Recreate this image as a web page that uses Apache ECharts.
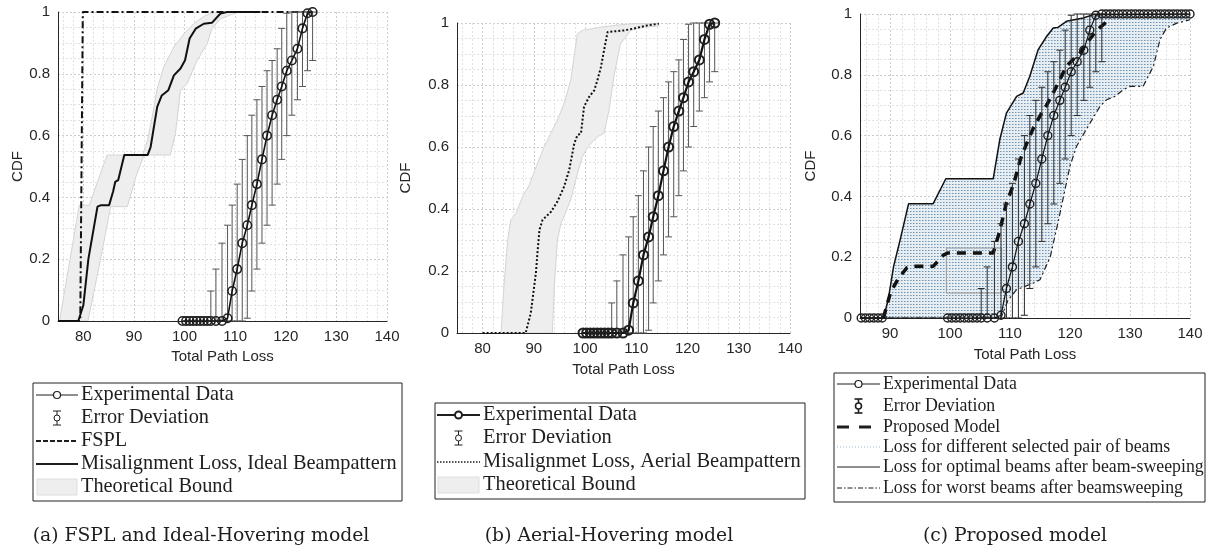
<!DOCTYPE html>
<html>
<head>
<meta charset="utf-8">
<title>CDF of total path loss</title>
<script src="https://cdn.jsdelivr.net/npm/echarts@6/dist/echarts.min.js"></script>
<style>
  html, body { margin: 0; padding: 0; background: #fff; }
  #chart { width: 1223px; height: 551px; }
</style>
</head>
<body>
<div id="chart"></div>
<script>
// ---- data ----
// experimental CDF (same measurement in all three panels)
const expX = [99.6,100.3,101.0,101.7,102.4,103.1,103.8,104.5,105.2,106.2,107.4,108.5,109.4,110.4,111.4,112.4,113.3,114.3,115.3,116.3,117.3,118.3,119.2,120.2,121.2,122.3,123.3,124.3,125.3];
const expY = [0,0,0,0,0,0,0,0,0,0,0,0.009,0.097,0.168,0.252,0.31,0.375,0.443,0.523,0.6,0.666,0.716,0.759,0.81,0.843,0.881,0.947,0.996,1];
// error deviation bars
const errX    = [105.2,106.2,107.4,108.5,109.4,110.4,111.4,112.4,113.3,114.3,115.3,116.3,117.3,118.3,119.2,120.2,121.2,122.3,123.3,124.3,125.3];
const errLow  = [0,0,0,0,0,0,0,0.009,0.097,0.168,0.252,0.31,0.375,0.443,0.523,0.6,0.666,0.716,0.759,0.81,0.843];
const errHigh = [0.097,0.168,0.252,0.31,0.375,0.443,0.523,0.6,0.666,0.716,0.759,0.81,0.843,0.881,0.947,0.996,1,1,1,1,1];
// extra circles drawn in panel (c)
const expCLowX  = [85.2,85.9,86.6,87.3,88.0,88.7];
const expCLowY  = [0,0,0,0,0,0];
const expCHighX = [126.0,126.7,127.4,128.1,128.8,129.5,130.2,130.9,131.6,132.3,133.0,133.7,134.4,135.1,135.8,136.5,137.2,137.9,138.6,139.3,140.0];
const expCHighY = [1,1,1,1,1,1,1,1,1,1,1,1,1,1,1,1,1,1,1,1,1];

// (a) FSPL and ideal beampattern
const fsplX = [75,79.4,79.9,125.3];
const fsplY = [0,0,1,1];
const idealX = [75.3,79,80,81,82.8,83.5,85.1,85.9,86.3,86.9,88.1,92.7,93.3,94.6,95.5,96.8,97.9,99.2,100.1,101,102.2,103.8,105.4,107.1,108.4,115];
const idealY = [0,0,0.05,0.2,0.37,0.375,0.375,0.42,0.45,0.456,0.537,0.537,0.563,0.693,0.73,0.747,0.795,0.817,0.844,0.914,0.946,0.962,0.965,0.995,1,1];
// theoretical bound outline (left edge upward, then right edge downward)
const boundAX = [75.3,79.2,81.2,82.8,84.7,91.7,92.7,93.6,94.6,95.9,97.9,99.9,101.8,103.8,105.8,110.7,109,107.1,105.4,104.5,102.5,100.5,99.2,98.2,97.2,92,90.4,88.7,85.4,83.5,81.5,80.9];
const boundAY = [0,0.375,0.375,0.45,0.537,0.537,0.585,0.66,0.752,0.822,0.887,0.93,0.962,0.986,1,1,0.99,0.978,0.946,0.898,0.844,0.768,0.747,0.607,0.537,0.537,0.467,0.37,0.37,0.208,0.046,0];

// (b) aerial beampattern
const aerialX = [80,88.4,89.4,90.4,90.7,91.1,91.7,93.3,94.6,95.9,96.9,97.9,98.5,99.2,99.8,100.8,101.8,102.4,103.1,103.7,104.4,107.6,109.5,112.1,114.4];
const aerialY = [0,0,0.064,0.193,0.258,0.333,0.365,0.39,0.424,0.472,0.526,0.612,0.638,0.644,0.73,0.762,0.783,0.815,0.858,0.912,0.971,0.976,0.982,0.992,0.998];
const boundBX = [83.6,84.2,84.9,85.5,86.5,87.8,89.1,90.7,92,93.3,94.6,95.9,97.2,98.5,99.5,102.4,105.6,109.5,114.4,114.4,111.5,108.9,106.9,105.6,104.7,103.7,102.4,100.5,99.5,98.5,97.2,95.9,95.3,94.6,94,93.6];
const boundBY = [0,0.16,0.3,0.365,0.386,0.44,0.477,0.547,0.6,0.644,0.687,0.74,0.815,0.966,0.976,0.985,0.992,0.998,0.998,0.99,0.987,0.976,0.933,0.826,0.72,0.644,0.633,0.6,0.569,0.515,0.43,0.376,0.354,0.3,0.15,0];

// (c) proposed model
const optX = [85,88.9,89.7,90.6,91.7,93.1,97.2,99.3,107.2,108.3,109.4,111.1,112.2,113.3,114.7,116.1,117.2,118,119.4,122.2,123.9,124.2,140];
const optY = [0,0,0.06,0.17,0.258,0.376,0.376,0.458,0.458,0.587,0.674,0.729,0.74,0.795,0.883,0.926,0.954,0.956,0.976,0.987,0.998,1,1];
const worstX = [85,108.5,109.7,111.1,113.9,115,116.7,118.1,120,121.1,123.3,125,126.1,127.5,128.9,130,132.2,133.9,135,136.1,137.8,140];
const worstY = [0,0,0.06,0.093,0.115,0.126,0.2,0.323,0.5,0.565,0.64,0.696,0.718,0.729,0.751,0.762,0.762,0.828,0.916,0.954,0.97,0.981];
const propX = [88.9,90.1,91.4,92.8,93.5,97.2,98.9,99.6,107.2,108.2,109.4,110.6,111.7,112.8,113.9,115,116.1,117.2,118.3,119.4,120.5,121.6,122.8,124.4,126.4];
const propY = [0,0.085,0.13,0.165,0.17,0.17,0.207,0.214,0.214,0.28,0.378,0.44,0.52,0.575,0.625,0.665,0.7,0.74,0.784,0.828,0.85,0.87,0.905,0.945,0.98];
const boxX = [99.4,108.6,108.6,99.4,99.4];
const boxY = [0.23,0.23,0.082,0.082,0.23];

// ---- styling ----
const sans = '"Liberation Sans", Arial, Helvetica, sans-serif';
const serif = '"Liberation Serif", "Times New Roman", serif';
const capSerif = '"DejaVu Serif", serif';
const textC = '#262626';
const majorC = '#cdcdcd', minorC = '#e2e2e2', none = 'rgba(0,0,0,0)';

const grids = [
  { left: 58,  top: 12, width: 329, height: 309 },
  { left: 457, top: 23, width: 333, height: 310 },
  { left: 860, top: 14, width: 330, height: 304 }
];
const xMin = [75, 75, 85];
const nameGapX = [26, 29, 29];
const nameGapY = [33, 44, 42];

function xAxisFor(i) {
  return {
    type: 'value', gridIndex: i, min: xMin[i], max: 140, interval: 1,
    name: 'Total Path Loss', nameLocation: 'middle', nameGap: nameGapX[i],
    nameTextStyle: { fontFamily: sans, fontSize: 15, color: textC },
    axisLine: { onZero: false, lineStyle: { color: textC, width: 1 } },
    axisTick: { show: false },
    axisLabel: {
      formatter: v => (v % 10 === 0 ? String(v) : ''),
      fontFamily: sans, fontSize: 15, color: textC, margin: 8
    },
    splitLine: {
      show: true,
      lineStyle: { type: [2, 2], width: 1,
        color: [none, minorC, none, minorC, none, majorC, none, minorC, none, minorC] }
    }
  };
}

function yAxisFor(i) {
  return {
    type: 'value', gridIndex: i, min: 0, max: 1, interval: 0.05,
    name: 'CDF', nameLocation: 'middle', nameGap: nameGapY[i], nameRotate: 90,
    nameTextStyle: { fontFamily: sans, fontSize: 15, color: textC },
    axisLine: { show: true, lineStyle: { color: textC, width: 1 } },
    axisTick: { show: false },
    axisLabel: {
      formatter: v => { const k = Math.round(v * 20); return k % 4 === 0 ? String(k / 20) : ''; },
      fontFamily: sans, fontSize: 15, color: textC, margin: 8
    },
    splitLine: { show: true, lineStyle: { type: [2, 2], width: 1, color: [majorC, minorC, minorC, minorC] } }
  };
}

const pairs = (xs, ys) => xs.map((x, k) => [x, ys[k]]);

function lineSeries(i, xs, ys, lineStyle, z) {
  return {
    type: 'line', xAxisIndex: i, yAxisIndex: i, data: pairs(xs, ys),
    symbol: 'none', silent: true, z: z || 3, lineStyle: lineStyle
  };
}

function polySeries(i, xs, ys, style) {
  return {
    type: 'custom', xAxisIndex: i, yAxisIndex: i, silent: true, clip: true, z: 1,
    data: pairs(xs, ys),
    renderItem: (params, api) => {
      if (params.dataIndex !== 0) return null;
      return { type: 'polygon', shape: { points: xs.map((x, k) => api.coord([x, ys[k]])) }, style: style };
    }
  };
}

function errSeries(i, color, width) {
  return {
    type: 'custom', xAxisIndex: i, yAxisIndex: i, silent: true, z: 4,
    data: errX.map((x, k) => [x, errLow[k], errHigh[k]]),
    encode: { x: 0, y: [1, 2] },
    renderItem: (params, api) => {
      const lo = api.coord([api.value(0), api.value(1)]);
      const hi = api.coord([api.value(0), api.value(2)]);
      const st = { stroke: color, lineWidth: width };
      return { type: 'group', children: [
        { type: 'line', shape: { x1: lo[0], y1: lo[1], x2: hi[0], y2: hi[1] }, style: st },
        { type: 'line', shape: { x1: lo[0] - 3.5, y1: lo[1], x2: lo[0] + 3.5, y2: lo[1] }, style: st },
        { type: 'line', shape: { x1: hi[0] - 3.5, y1: hi[1], x2: hi[0] + 3.5, y2: hi[1] }, style: st }
      ] };
    }
  };
}

function expSeries(i, xs, ys, lineW, ringW, size) {
  return {
    type: 'line', xAxisIndex: i, yAxisIndex: i, data: pairs(xs, ys), silent: true, z: 5,
    symbol: 'circle', symbolSize: size,
    itemStyle: { color: 'rgba(0,0,0,0)', borderColor: '#1f1f1f', borderWidth: ringW },
    lineStyle: { color: '#111', width: lineW }
  };
}

// texture for the "different beam pairs" region of panel (c)
function dotPattern() {
  const c = document.createElement('canvas');
  c.width = 3; c.height = 3;
  const g = c.getContext('2d');
  g.fillStyle = '#e6eef4'; g.fillRect(0, 0, 3, 3);
  g.fillStyle = '#6f93b0'; g.fillRect(1, 1, 1, 1);
  g.fillStyle = '#a9c0d2'; g.fillRect(2, 1, 1, 1);
  return c;
}

// fit font size to a measured width in the reference
const mctx = document.createElement('canvas').getContext('2d');
function fit(text, family, target) {
  mctx.font = '100px ' + family;
  return 100 * target / mctx.measureText(text).width;
}

// ---- legends (MATLAB-style boxes) ----
function icon(kind, x0, x1, y) {
  const cx = (x0 + x1) / 2, k = '#1e1e1e';
  const ln = (w, dash, c) => ({ type: 'line', shape: { x1: x0, y1: y, x2: x1, y2: y },
    style: { stroke: c || k, lineWidth: w, lineDash: dash || null } });
  const seg = (ax, ay, bx, by, w) => ({ type: 'line', shape: { x1: ax, y1: ay, x2: bx, y2: by }, style: { stroke: k, lineWidth: w } });
  switch (kind) {
    case 'exp': return [ln(1), { type: 'circle', shape: { cx: cx, cy: y, r: 3.5 }, style: { fill: '#fff', stroke: k, lineWidth: 1.2 } }];
    case 'expBold': return [ln(2.2), { type: 'circle', shape: { cx: cx, cy: y, r: 3.5 }, style: { fill: '#fff', stroke: k, lineWidth: 2 } }];
    case 'err':
    case 'errBold': {
      const w = kind === 'errBold' ? 1.6 : 1;
      return [seg(cx, y - 7, cx, y + 7, w), seg(cx - 4, y - 7, cx + 4, y - 7, w), seg(cx - 4, y + 7, cx + 4, y + 7, w),
        { type: 'circle', shape: { cx: cx, cy: y, r: 3 }, style: { fill: '#fff', stroke: k, lineWidth: w } }];
    }
    case 'dash': return [ln(2, [5, 2])];
    case 'solid': return [ln(2)];
    case 'thin': return [ln(1)];
    case 'dotted': return [ln(1.5, [1.5, 1.5])];
    case 'lightdot': return [ln(1, [1, 2], '#9db5c8')];
    case 'bigdash': return [ln(3.2, [12, 10])];
    case 'dashdot': return [ln(1, [5, 2, 1.5, 2])];
    case 'band': return [{ type: 'rect', shape: { x: x0 + 1, y: y - 8, width: x1 - x0 - 2, height: 16 }, style: { fill: '#eeeeee', stroke: '#dedede', lineWidth: 1 } }];
  }
  return [];
}

function legendBox(box, ix0, ix1, rows, longest, target) {
  const fs = fit(longest, serif, target);
  const els = [{ type: 'rect', shape: { x: box.x, y: box.y, width: box.w, height: box.h },
    style: { fill: '#fff', stroke: '#222', lineWidth: 1 } }];
  rows.forEach(r => {
    icon(r.icon, ix0, ix1, r.y).forEach(e => els.push(e));
    els.push({ type: 'text', x: ix1 + 3, y: r.y,
      style: { text: r.text, fontFamily: serif, fontSize: fs, fill: '#1e1e1e', align: 'left', verticalAlign: 'middle' } });
  });
  return els;
}

const legendA = legendBox({ x: 33, y: 383, w: 369, h: 118 }, 36, 78, [
  { y: 395, icon: 'exp', text: 'Experimental Data' },
  { y: 418, icon: 'err', text: 'Error Deviation' },
  { y: 441, icon: 'dash', text: 'FSPL' },
  { y: 464, icon: 'solid', text: 'Misalignment Loss, Ideal Beampattern' },
  { y: 487, icon: 'band', text: 'Theoretical Bound' }
], 'Misalignment Loss, Ideal Beampattern', 316);

const legendB = legendBox({ x: 435, y: 403, w: 370, h: 96 }, 437, 480, [
  { y: 415, icon: 'expBold', text: 'Experimental Data' },
  { y: 438, icon: 'err', text: 'Error Deviation' },
  { y: 462, icon: 'dotted', text: 'Misalignmet Loss, Aerial Beampattern' },
  { y: 485, icon: 'band', text: 'Theoretical Bound' }
], 'Misalignmet Loss, Aerial Beampattern', 318);

const legendC = legendBox({ x: 834, y: 373, w: 371, h: 129 }, 837, 880, [
  { y: 384, icon: 'exp', text: 'Experimental Data' },
  { y: 406, icon: 'errBold', text: 'Error Deviation' },
  { y: 427, icon: 'bigdash', text: 'Proposed Model' },
  { y: 447, icon: 'lightdot', text: 'Loss for different selected pair of beams' },
  { y: 467, icon: 'thin', text: 'Loss for optimal beams after beam-sweeping' },
  { y: 488, icon: 'dashdot', text: 'Loss for worst beams after beamsweeping' }
], 'Loss for optimal beams after beam-sweeping', 321);

const capSize = fit('(a) FSPL and Ideal-Hovering model', capSerif, 337);
const caption = (x, text) => ({ type: 'text', x: x, y: 536,
  style: { text: text, fontFamily: capSerif, fontSize: capSize, fill: '#1e1e1e', align: 'center', verticalAlign: 'middle' } });

// ---- chart ----
const bandStyle = { fill: '#eeeeee', stroke: '#d4d4d4', lineWidth: 1 };
const regionC = optX.concat(worstX.slice().reverse());
const regionCY = optY.concat(worstY.slice().reverse());

const chart = echarts.init(document.getElementById('chart'), null, { renderer: 'canvas' });
chart.setOption({
  animation: false,
  backgroundColor: '#fff',
  grid: grids,
  xAxis: [xAxisFor(0), xAxisFor(1), xAxisFor(2)],
  yAxis: [yAxisFor(0), yAxisFor(1), yAxisFor(2)],
  series: [
    // (a)
    polySeries(0, boundAX, boundAY, bandStyle),
    lineSeries(0, idealX, idealY, { color: '#111', width: 2 }),
    lineSeries(0, fsplX, fsplY, { color: '#111', width: 2, type: [7, 3, 2, 3] }),
    errSeries(0, '#555', 1),
    expSeries(0, expX, expY, 1.6, 1.6, 8.5),
    // (b)
    polySeries(1, boundBX, boundBY, bandStyle),
    lineSeries(1, aerialX, aerialY, { color: '#111', width: 2, type: [2, 2] }),
    errSeries(1, '#555', 1),
    expSeries(1, expX, expY, 2.2, 2, 9),
    // (c)
    polySeries(2, regionC, regionCY, { fill: { image: dotPattern(), repeat: 'repeat' }, stroke: null }),
    lineSeries(2, boxX, boxY, { color: '#9a9a9a', width: 1 }, 2),
    lineSeries(2, worstX, worstY, { color: '#222', width: 1.2, type: [6, 3, 2, 3] }),
    lineSeries(2, optX, optY, { color: '#111', width: 1.5 }),
    lineSeries(2, propX, propY, { color: '#111', width: 3.5, type: [9, 7] }),
    errSeries(2, '#2a2a2a', 1),
    expSeries(2, expCLowX.concat(expX, expCHighX), expCLowY.concat(expY, expCHighY), 1.2, 1.4, 8)
  ],
  graphic: { elements: legendA.concat(legendB, legendC, [
    caption(201, '(a) FSPL and Ideal-Hovering model'),
    caption(609, '(b) Aerial-Hovering model'),
    caption(1015, '(c) Proposed model')
  ]) }
});
</script>
</body>
</html>
